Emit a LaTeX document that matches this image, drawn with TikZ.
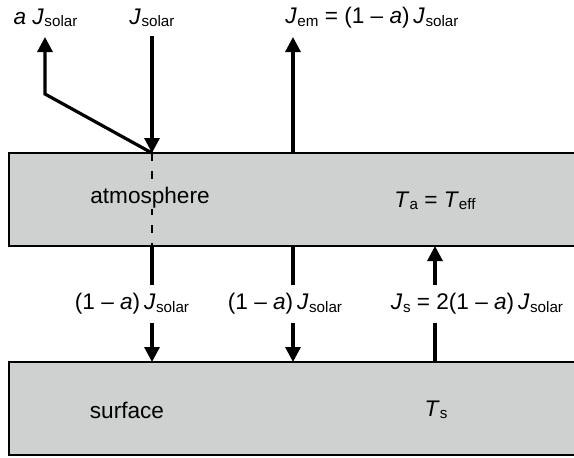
\documentclass[tikz,border=0pt]{standalone}
\usepackage{fontspec}
\setmainfont{Liberation Sans}
\usetikzlibrary{arrows.meta}
\definecolor{layergray}{RGB}{207,209,209}
\newcommand{\Jx}[1]{\textit{J}\kern0.3pt\raisebox{-0.2ex}{\fontsize{7.6}{8}\selectfont #1}}
\newcommand{\Tx}[1]{\textit{T}\raisebox{-0.2ex}{\fontsize{7.6}{8}\selectfont #1}}
\newcommand{\oma}{(1 \textendash{} \textit{a})}
\tikzset{
  layer/.style={draw, line width=1pt, fill=layergray, anchor=north west,
    inner sep=0pt, outer sep=0pt, minimum width=300pt, minimum height=46.5pt},
  flux/.style={line width=1.6pt, -{Triangle[width=7.5pt,length=7.5pt]}},
  bar/.style={line width=1.6pt},
  lbl/.style={inner sep=0pt, font=\fontsize{11.3}{13}\selectfont},
  gaplbl/.style={lbl, minimum height=19pt}
}
\begin{document}
\begin{tikzpicture}[x=0.5pt, y=-0.5pt]
  \useasboundingbox (0,0) rectangle (574,457);
  % the two layers
  \node[layer] (atm) at (9,153) {};
  \node[layer] (srf) at (9,362) {};
  % fluxes above the atmosphere
  \node[lbl] (refl) at (45.5,18) {\textit{a} \Jx{solar}};
  \node[lbl] (sun) at (152,18) {\Jx{solar}};
  \node[lbl, anchor=west] (em) at (285,18) {\Jx{em} = \oma\,\Jx{solar}};
  \coordinate (suntop) at (152,36);
  \coordinate (refltip) at (45,37);
  \coordinate (bend) at (45,94);
  \coordinate (emtip) at (293,37);
  \coordinate (hit) at (atm.north -| suntop);
  \draw[flux] (suntop) -- (hit);
  \draw[flux] (hit) -- (bend) -- (refltip);
  \draw[flux] (atm.north -| emtip) -- (emtip);
  \draw[line width=1pt, dash pattern=on 4pt off 5pt] (hit) -- (atm.south -| hit);
  \node[lbl, fill=layergray] (atmtxt) at (150,198) {atmosphere};
  \node[lbl] (ta) at (435,201) {\Tx{a} = \Tx{eff}};
  \node[lbl] (srftxt) at (127,410) {surface};
  \node[lbl] (ts) at (436,410) {\Tx{s}};
  % fluxes between atmosphere and surface
  \node[gaplbl] (down1) at (132,304) {\oma\,\Jx{solar}};
  \node[gaplbl] (down2) at (285,304) {\oma\,\Jx{solar}};
  \node[gaplbl] (up) at (477,304) {\Jx{s} = 2\oma\,\Jx{solar}};
  \coordinate (xr) at (435,0);
  \draw[bar] (atm.south -| hit) -- (down1.north -| hit);
  \draw[flux] (down1.south -| hit) -- (srf.north -| hit);
  \draw[bar] (atm.south -| emtip) -- (down2.north -| emtip);
  \draw[flux] (down2.south -| emtip) -- (srf.north -| emtip);
  \draw[bar] (srf.north -| xr) -- (up.south -| xr);
  \draw[flux] (up.north -| xr) -- (atm.south -| xr);
\end{tikzpicture}
\end{document}
